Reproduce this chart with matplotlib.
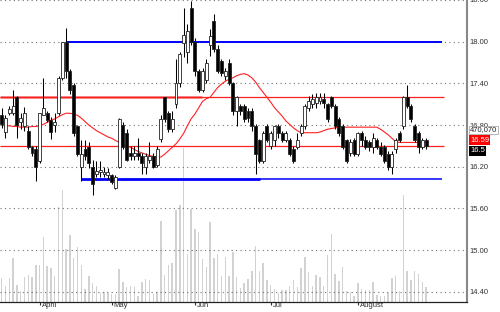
import matplotlib
matplotlib.use("Agg")
import matplotlib.pyplot as plt
import matplotlib.transforms as mtransforms

# daily OHLC, one entry per trading day (mid March .. late August)
opens = [16.95, 16.70, 16.98, 16.98, 17.20, 16.85, 16.78, 16.72, 16.48, 16.45,
         16.28, 16.95, 16.98, 16.88, 16.80, 16.97, 17.48, 17.99, 17.58, 17.37,
         16.79, 16.20, 16.45, 16.48, 16.20, 16.10, 16.12, 16.10, 16.08, 16.08,
         15.90, 16.20, 16.80, 16.68, 16.40, 16.35, 16.40, 16.35, 16.20, 16.30,
         16.35, 16.22, 16.60, 17.20, 16.98, 16.75, 17.10, 17.40, 17.98, 17.85,
         18.48, 18.00, 17.58, 17.30, 17.45, 17.95, 18.30, 17.90, 17.72, 17.50,
         17.70, 17.40, 17.00, 17.08, 17.08, 17.00, 17.00, 16.79, 16.58, 16.29,
         16.79, 16.50, 16.58, 16.79, 16.68, 16.58, 16.58, 16.45, 16.48, 16.68,
         16.79, 17.05, 17.10, 17.12, 17.15, 17.18, 17.10, 17.20, 17.08, 16.89,
         16.79, 16.58, 16.40, 16.58, 16.39, 16.68, 16.58, 16.55, 16.48, 16.58,
         16.48, 16.48, 16.39, 16.19, 16.45, 16.68, 16.79, 17.20, 17.08, 16.79,
         16.68, 16.48, 16.58]
highs = [17.05, 16.95, 17.08, 17.30, 17.22, 16.98, 17.06, 16.78, 16.50, 16.50,
         16.98, 17.48, 17.00, 16.92, 16.97, 17.50, 18.00, 18.19, 17.60, 17.40,
         16.80, 16.58, 16.58, 16.55, 16.30, 16.28, 16.28, 16.20, 16.18, 16.10,
         16.08, 16.90, 16.85, 16.75, 16.50, 16.50, 16.62, 16.40, 16.40, 16.55,
         16.40, 16.50, 16.95, 17.20, 17.00, 17.00, 17.75, 17.85, 18.48, 18.25,
         18.58, 18.05, 17.60, 17.62, 17.75, 18.18, 18.40, 17.95, 17.75, 17.62,
         17.75, 17.42, 17.22, 17.10, 17.10, 17.05, 17.05, 16.82, 16.60, 16.72,
         16.82, 16.72, 16.80, 16.82, 16.72, 16.72, 16.62, 16.50, 16.68, 16.82,
         17.10, 17.22, 17.25, 17.26, 17.26, 17.26, 17.12, 17.22, 17.10, 16.92,
         16.82, 16.60, 16.60, 16.62, 16.70, 16.72, 16.65, 16.58, 16.68, 16.62,
         16.55, 16.52, 16.42, 16.42, 16.62, 16.72, 17.22, 17.37, 17.10, 16.82,
         16.72, 16.62, 16.62]
lows = [16.76, 16.62, 16.95, 16.95, 16.62, 16.75, 16.72, 16.45, 16.36, 16.00,
        16.25, 16.95, 16.85, 16.60, 16.70, 16.95, 17.45, 17.48, 17.25, 16.65,
        16.35, 16.00, 16.30, 16.18, 15.80, 16.05, 16.05, 16.05, 16.02, 15.95,
        15.88, 16.18, 16.45, 16.28, 16.30, 16.30, 16.30, 16.10, 16.10, 16.25,
        16.18, 16.20, 16.55, 16.85, 16.70, 16.70, 17.05, 17.35, 17.78, 17.70,
        17.95, 17.50, 17.28, 17.28, 17.40, 17.80, 17.85, 17.55, 17.50, 17.45,
        17.38, 16.95, 16.79, 16.95, 16.85, 16.85, 16.72, 16.10, 16.25, 16.25,
        16.55, 16.45, 16.50, 16.62, 16.55, 16.55, 16.35, 16.25, 16.45, 16.65,
        16.75, 17.00, 17.05, 17.05, 17.10, 17.05, 16.85, 17.05, 16.75, 16.65,
        16.45, 16.25, 16.35, 16.35, 16.35, 16.50, 16.45, 16.42, 16.40, 16.45,
        16.35, 16.25, 16.15, 16.10, 16.40, 16.55, 16.75, 17.05, 16.85, 16.55,
        16.40, 16.45, 16.45]
closes = [16.82, 16.90, 17.03, 17.08, 16.80, 16.90, 16.98, 16.48, 16.40, 16.20,
          16.98, 17.05, 16.88, 16.70, 16.85, 17.48, 17.99, 17.58, 17.30, 16.68,
          16.39, 16.39, 16.35, 16.25, 15.95, 16.14, 16.15, 16.12, 16.12, 15.98,
          16.05, 16.89, 16.48, 16.30, 16.35, 16.40, 16.35, 16.25, 16.35, 16.35,
          16.20, 16.45, 16.89, 16.89, 16.75, 16.89, 17.40, 17.83, 18.10, 18.15,
          18.00, 17.58, 17.30, 17.58, 17.70, 18.08, 17.90, 17.58, 17.55, 17.58,
          17.40, 17.00, 17.20, 17.00, 16.89, 16.90, 16.79, 16.39, 16.29, 16.68,
          16.58, 16.68, 16.78, 16.68, 16.58, 16.68, 16.39, 16.29, 16.58, 16.79,
          17.08, 17.15, 17.18, 17.20, 17.20, 17.12, 16.89, 17.08, 16.79, 16.68,
          16.48, 16.29, 16.55, 16.39, 16.68, 16.58, 16.48, 16.48, 16.62, 16.48,
          16.39, 16.29, 16.19, 16.39, 16.58, 16.58, 17.20, 17.08, 16.89, 16.58,
          16.48, 16.58, 16.50]
# volume in thousands of shares
volume_k = [751, 501, 751, 1377, 532, 344, 783, 845, 783, 1158,
            1158, 2035, 1127, 1064, 814, 2974, 3506, 1659, 2097, 1377,
            1722, 1158, 407, 814, 595, 501, 282, 313, 282, 250,
            250, 1033, 626, 470, 501, 470, 188, 626, 720, 689,
            250, 313, 2535, 845, 1158, 1221, 2880, 3036, 4820, 1502,
            2911, 2285, 2191, 1346, 1096, 2504, 1377, 1502, 814, 1409,
            814, 1565, 783, 438, 595, 720, 970, 1753, 970, 1221,
            689, 532, 407, 282, 376, 376, 501, 689, 470, 1064,
            1409, 939, 501, 845, 783, 501, 1471, 2128, 876, 657,
            1096, 344, 313, 188, 595, 407, 376, 376, 626, 219,
            188, 188, 282, 751, 814, 344, 3349, 970, 689, 970,
            876, 626, 470.07]
# moving average as drawn on the chart
ma = [16.80, 16.79, 16.79, 16.78, 16.78, 16.77, 16.77, 16.77, 16.78, 16.78,
      16.79, 16.81, 16.84, 16.87, 16.89, 16.92, 16.95, 16.97, 16.97, 16.96,
      16.94, 16.90, 16.85, 16.80, 16.76, 16.72, 16.69, 16.66, 16.63, 16.61,
      16.58, 16.55, 16.52, 16.50, 16.48, 16.45, 16.42, 16.40, 16.38, 16.36,
      16.35, 16.34, 16.34, 16.38, 16.43, 16.48, 16.53, 16.60, 16.68, 16.79,
      16.89, 16.96, 17.05, 17.14, 17.18, 17.20, 17.27, 17.34, 17.39, 17.43,
      17.46, 17.48, 17.51, 17.53, 17.54, 17.52, 17.48, 17.42, 17.34, 17.27,
      17.20, 17.13, 17.05, 16.99, 16.93, 16.86, 16.81, 16.76, 16.72, 16.69,
      16.69, 16.69, 16.69, 16.69, 16.70, 16.72, 16.74, 16.75, 16.76, 16.77,
      16.77, 16.77, 16.77, 16.77, 16.77, 16.77, 16.77, 16.77, 16.77, 16.77,
      16.74, 16.70, 16.66, 16.61, 16.56, 16.55, 16.55, 16.55, 16.55, 16.55,
      16.55, 16.55, 16.55]

month_idx = [10, 29, 51, 71, 94]
month_names = ["April", "May", "Jun", "Jul", "August"]
price_ticks = [14.40, 15.00, 15.60, 16.20, 16.80, 17.40, 18.00, 18.60]

resist_hi = 18.00
support_lo = 16.02
band_hi = 17.21
band_lo = 16.50
ma_label = "16.59"

plt.rcParams['font.family'] = ['Liberation Sans', 'DejaVu Sans']

fig = plt.figure(figsize=(5.0, 3.12), dpi=100)
fig.patch.set_facecolor("white")
ax = fig.add_axes([0, 10 / 312, 467 / 500, 302 / 312])
ax2 = ax.twinx()
ax.set_zorder(2)
ax2.set_zorder(1)
ax.patch.set_visible(False)

n = len(closes)
xs = list(range(n))

# volume (behind)
ax2.bar(xs, volume_k, width=0.38, color="#d2d2d2", linewidth=0)
ax2.set_ylim(0, 302 * 31.3)
ax2.set_yticks([])
for s in ax2.spines.values():
    s.set_visible(False)

# horizontal levels
ax.hlines(resist_hi, 17.0, 116.2, color="#0000ff", lw=1.4, zorder=2)
ax.hlines(support_lo, 20.9, 68.2, color="#0000ff", lw=2.0, zorder=2)
ax.hlines(support_lo, 68.2, 116.2, color="#0000ff", lw=1.1, zorder=2)
ax.hlines(band_hi, -0.5, 52.8, color="#f07070", lw=1.8, zorder=2)
ax.hlines(band_hi, -0.5, 116.7, color="#ff2020", lw=0.9, zorder=2)
ax.hlines(band_lo, -0.5, 116.7, color="#ff2020", lw=0.9, zorder=2)

ax.plot(xs, ma, color="#ff2020", lw=0.8, zorder=2.5)

# candles
ax.vlines(xs, lows, highs, color="black", lw=0.75, zorder=3)
for i in xs:
    o, c = opens[i], closes[i]
    lo, hi = min(o, c), max(o, c)
    h = max(hi - lo, 0.012)
    fill = "white" if c >= o else "black"
    ax.bar(i, h, bottom=lo, width=0.78, color=fill, edgecolor="#222222",
           linewidth=0.6, zorder=4)

ax.set_xlim(-0.45, 122.8)
ax.set_ylim(14.254, 18.588)

ax.yaxis.tick_right()
ax.set_yticks(price_ticks)
ax.set_yticklabels([f"{t:.2f}" for t in price_ticks])
ax.tick_params(axis="y", length=0, pad=2, labelsize=5.5, labelcolor="#333333")
ax.yaxis.grid(True, color="#707070", lw=0.8, linestyle=(0, (1, 3)))
ax.set_axisbelow(True)

ax.set_xticks(month_idx)
ax.set_xticklabels(month_names)
ax.tick_params(axis="x", length=2.5, width=0.8, direction="out", pad=0,
               labelsize=5.5, labelcolor="#333333", color="#333333")
offset = mtransforms.ScaledTranslation(1.5 / 72, 2.2 / 72, fig.dpi_scale_trans)
for lab in ax.get_xticklabels():
    lab.set_ha("left")
    lab.set_transform(lab.get_transform() + offset)

ax.spines["top"].set_visible(False)
ax.spines["left"].set_visible(False)
ax.spines["right"].set_color("#888888")
ax.spines["right"].set_linewidth(1.5)
ax.spines["bottom"].set_color("#222222")
ax.spines["bottom"].set_linewidth(0.9)

# last-value tags on the right
fig.text(470 / 500, (312 - 130) / 312, f"{volume_k[-1] * 1000:,.0f}", fontsize=5.5,
         color="#222222", ha="left", va="center",
         bbox=dict(boxstyle="square,pad=0.12", facecolor="white", edgecolor="#999999", lw=0.5))
fig.text(470 / 500, (312 - 140) / 312, ma_label, fontsize=5.5, color="white",
         ha="left", va="center",
         bbox=dict(boxstyle="square,pad=0.15", facecolor="#ff0000", edgecolor="none"))
fig.text(470 / 500, (312 - 151) / 312, f"{closes[-1]:g}", fontsize=5.5, color="white",
         ha="left", va="center",
         bbox=dict(boxstyle="square,pad=0.15", facecolor="black", edgecolor="none"))

fig.savefig("out.png", dpi=100, facecolor="white")
